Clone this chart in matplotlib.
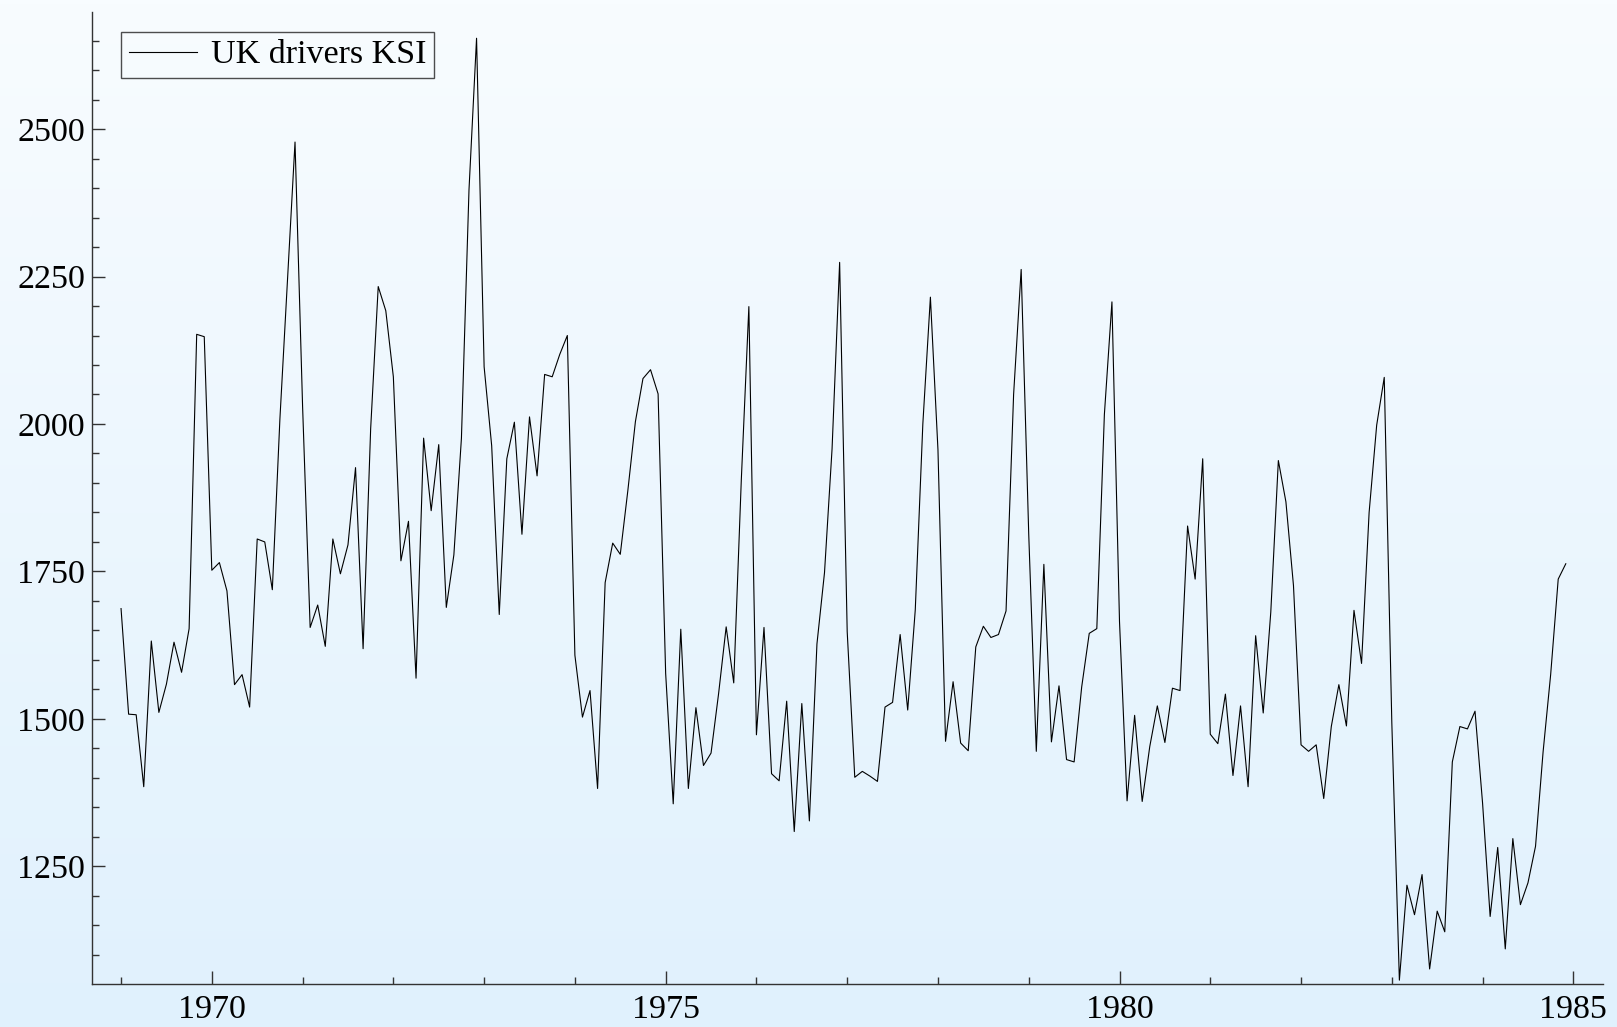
import numpy as np
import matplotlib
matplotlib.use("Agg")
import matplotlib.pyplot as plt
from matplotlib.ticker import MultipleLocator

ksi = [
    1687, 1508, 1507, 1385, 1632, 1511, 1559, 1630, 1579, 1653, 2152, 2148,
    1752, 1765, 1717, 1558, 1575, 1520, 1805, 1800, 1719, 2008, 2242, 2478,
    2030, 1655, 1693, 1623, 1805, 1746, 1795, 1926, 1619, 1992, 2233, 2192,
    2080, 1768, 1835, 1569, 1976, 1853, 1965, 1689, 1778, 1976, 2397, 2654,
    2097, 1963, 1677, 1941, 2003, 1813, 2012, 1912, 2084, 2080, 2118, 2150,
    1608, 1503, 1548, 1382, 1731, 1798, 1779, 1887, 2004, 2077, 2092, 2051,
    1577, 1356, 1652, 1382, 1519, 1421, 1442, 1543, 1656, 1561, 1905, 2199,
    1473, 1655, 1407, 1395, 1530, 1309, 1526, 1327, 1627, 1748, 1958, 2274,
    1648, 1401, 1411, 1403, 1394, 1520, 1528, 1643, 1515, 1685, 2000, 2215,
    1956, 1462, 1563, 1459, 1446, 1622, 1657, 1638, 1643, 1683, 2050, 2262,
    1813, 1445, 1762, 1461, 1556, 1431, 1427, 1554, 1645, 1653, 2016, 2207,
    1665, 1361, 1506, 1360, 1453, 1522, 1460, 1552, 1548, 1827, 1737, 1941,
    1474, 1458, 1542, 1404, 1522, 1385, 1641, 1510, 1681, 1938, 1868, 1726,
    1456, 1445, 1456, 1365, 1487, 1558, 1488, 1684, 1594, 1850, 1998, 2079,
    1494, 1057, 1218, 1168, 1236, 1076, 1174, 1139, 1427, 1487, 1483, 1513,
    1357, 1165, 1282, 1110, 1297, 1185, 1222, 1284, 1444, 1575, 1737, 1763,
]
start_year = 1969
series_label = "UK drivers KSI"

t = start_year + np.arange(len(ksi)) / 12.0

plt.rcParams['font.family'] = ['Liberation Serif', 'DejaVu Serif']

W, H = 1617, 1027
fig = plt.figure(figsize=(W / 100, H / 100), dpi=100)

# background gradient
bg = fig.add_axes([0, 0, 1, 1], zorder=0)
grad = np.linspace(0, 1, 256).reshape(-1, 1)
top = np.array([248, 252, 255]) / 255
bot = np.array([224, 241, 253]) / 255
img = top[None, None, :] * (1 - grad[:, :, None]) + bot[None, None, :] * grad[:, :, None]
bg.imshow(img, aspect='auto', extent=[0, 1, 0, 1])
bg.axis('off')

ax_w = 1603.3 - 92
ax = fig.add_axes([92 / W, (H - 983.7) / H, ax_w / W, (983.7 - 11.7) / H], zorder=1)
ax.set_facecolor('none')
ax.plot(t, ksi, color='black', lw=0.8, label=series_label)

ax.set_xlim(1968.68, 1985.33)
ax.set_ylim(1051, 2699)
ax.xaxis.set_major_locator(MultipleLocator(5))
ax.xaxis.set_minor_locator(MultipleLocator(1))
ax.yaxis.set_major_locator(MultipleLocator(250))
ax.yaxis.set_minor_locator(MultipleLocator(50))

for s in ['top', 'right']:
    ax.spines[s].set_visible(False)
for s in ['left', 'bottom']:
    ax.spines[s].set_color('#333333')
    ax.spines[s].set_linewidth(1.0)

ax.tick_params(which='major', direction='in', length=9.4, width=1.0, color='#333333',
               labelsize=24.5)
ax.tick_params(which='minor', direction='in', length=4.8, width=1.0, color='#333333')
ax.tick_params(axis='y', which='major', pad=5)
ax.tick_params(axis='x', which='major', pad=8)

leg = ax.legend(loc='upper left', fontsize=24.5, frameon=True, fancybox=False,
                handlelength=2.0, borderaxespad=0.6, handletextpad=0.4,
                borderpad=0.22, bbox_to_anchor=(9 / ax_w, 1.0))
leg.get_frame().set_edgecolor('#222222')
leg.get_frame().set_facecolor('none')
leg.get_frame().set_linewidth(1.0)

fig.savefig('out.png', dpi=100)
